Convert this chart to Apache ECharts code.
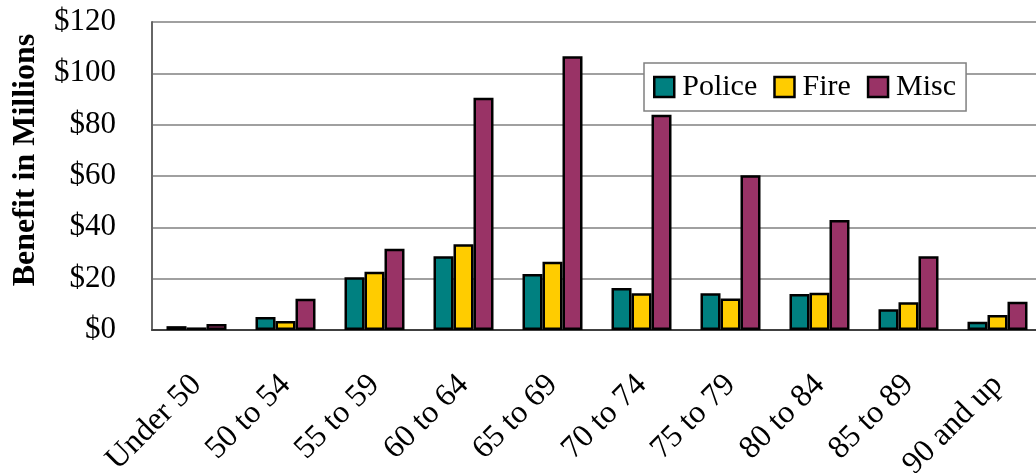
<!DOCTYPE html>
<html>
<head>
<meta charset="utf-8">
<script src="https://cdn.jsdelivr.net/npm/echarts@6/dist/echarts.min.js"></script>
<style>
  html, body { margin: 0; padding: 0; background: #fff; }
  #chart { width: 1036px; height: 473px; }
</style>
</head>
<body>
<div id="chart"></div>
<script>
const categorias = ['Under 50', '50 to 54', '55 to 59', '60 to 64', '65 to 69', '70 to 74', '75 to 79', '80 to 84', '85 to 89', '90 and up'];
const police = [1.5, 5.1, 20.6, 28.7, 21.8, 16.4, 14.3, 14.0, 8.1, 3.2];
const fire = [1.0, 3.5, 22.7, 33.4, 26.6, 14.3, 12.3, 14.5, 10.8, 5.8];
const misc = [2.3, 12.2, 31.7, 90.5, 106.7, 83.9, 60.3, 42.9, 28.7, 11.0];

const palette = ['#008080', '#FFCC00', '#993366'];
const fuente = 'Liberation Serif';

function serie(name, data, color) {
    return {
        name: name,
        type: 'bar',
        data: data,
        barWidth: 20,
        barGap: '0%',
        itemStyle: { color: color, borderColor: '#000', borderWidth: 2.5 }
    };
}

const chart = echarts.init(document.getElementById('chart'), null, { renderer: 'canvas' });

const option = {
    animation: false,
    textStyle: { fontFamily: fuente, color: '#000' },
    grid: { left: 152, top: 22, bottom: 143, right: -6, containLabel: false, outerBoundsMode: 'none' },
    legend: {
        left: 644,
        top: 63,
        orient: 'horizontal',
        itemWidth: 20,
        itemHeight: 20,
        itemGap: 16,
        padding: [9, 10, 9, 9],
        borderColor: '#808080',
        borderWidth: 1.5,
        backgroundColor: '#fff',
        icon: 'rect',
        itemStyle: { borderColor: '#000', borderWidth: 2.5 },
        textStyle: { fontFamily: fuente, fontSize: 30, color: '#000', padding: [0, 0, 0, 3] },
        data: ['Police', 'Fire', 'Misc']
    },
    xAxis: {
        type: 'category',
        data: categorias,
        axisLine: { lineStyle: { color: '#404040', width: 2 } },
        axisTick: { show: false },
        axisLabel: { rotate: 45, margin: 50, fontSize: 32, fontFamily: fuente, color: '#000', interval: 0 }
    },
    yAxis: {
        type: 'value',
        min: 0,
        max: 120,
        interval: 20,
        name: 'Benefit in Millions',
        nameLocation: 'middle',
        nameGap: 110,
        nameTextStyle: { fontFamily: fuente, fontSize: 32, fontWeight: 'bold', color: '#000', padding: [0, 0, 0, 32] },
        axisLine: { show: true, lineStyle: { color: '#666', width: 2 } },
        axisTick: { show: false },
        axisLabel: { margin: 36, fontSize: 31, fontFamily: fuente, color: '#000', formatter: '${value}' },
        splitLine: { lineStyle: { color: '#808080', width: 1.5 } }
    },
    series: [
        serie('Police', police, palette[0]),
        serie('Fire', fire, palette[1]),
        serie('Misc', misc, palette[2])
    ]
};

chart.setOption(option);
</script>
</body>
</html>
